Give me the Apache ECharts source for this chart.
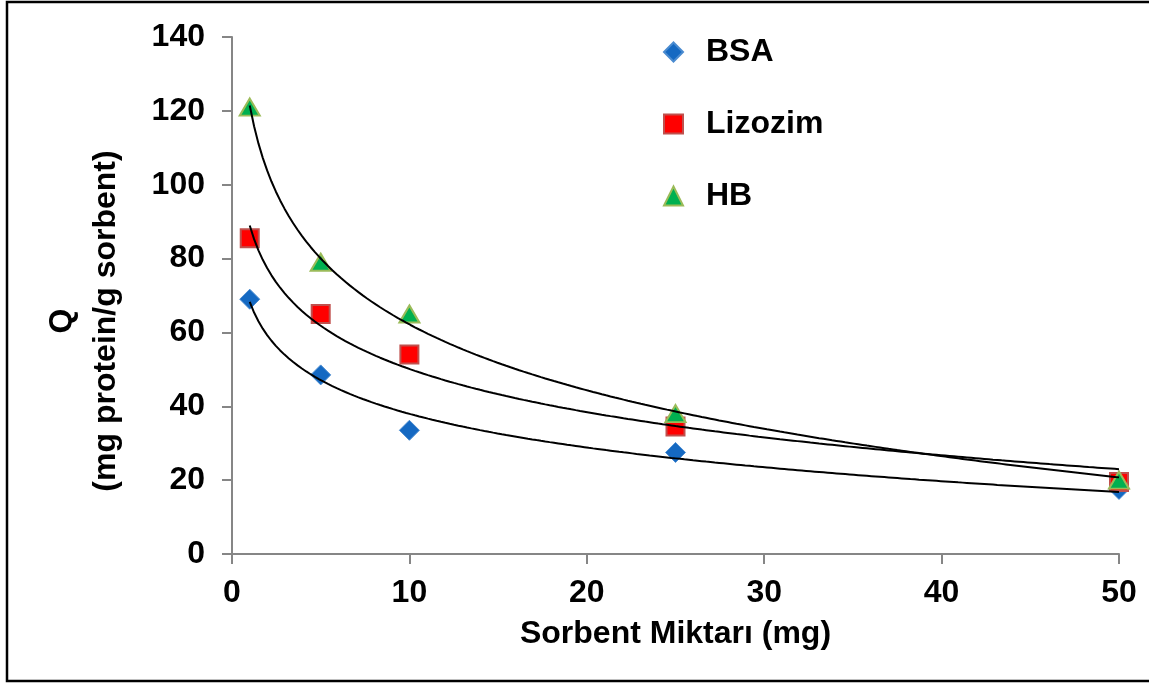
<!DOCTYPE html>
<html>
<head>
<meta charset="utf-8">
<script src="https://cdn.jsdelivr.net/npm/echarts@6/dist/echarts.min.js"></script>
<style>
html,body{margin:0;padding:0;background:#fff;}
#chart{width:1149px;height:683px;}
</style>
</head>
<body>
<div id="chart"></div>
<script>
// ---- data ----
var sorbentMg = [1, 5, 10, 25, 50];
var bsaQ      = [69, 48.5, 33.5, 27.5, 17.5];
var lizozimQ  = [85.5, 65, 54, 34.5, 19.5];
var hbQ       = [121, 79, 65, 38, 20];
var seriesNames = ['BSA', 'Lizozim', 'HB'];
var xTicks = [0, 10, 20, 30, 40, 50];
var yTicks = [0, 20, 40, 60, 80, 100, 120, 140];

function pairs(xs, ys) { return xs.map(function (x, i) { return [x, ys[i]]; }); }

// logarithmic least-squares trendline (y = a*ln(x) + b), as in the source spreadsheet
function logTrend(xs, ys) {
  var n = xs.length, lx = xs.map(Math.log);
  var mx = lx.reduce(function (s, v) { return s + v; }, 0) / n;
  var my = ys.reduce(function (s, v) { return s + v; }, 0) / n;
  var sxy = 0, sxx = 0;
  for (var i = 0; i < n; i++) { sxy += (lx[i] - mx) * (ys[i] - my); sxx += (lx[i] - mx) * (lx[i] - mx); }
  var a = sxy / sxx, b = my - a * mx;
  var out = [], x0 = xs[0], x1 = xs[n - 1];
  for (var k = 0; k <= 200; k++) {
    var x = x0 + (x1 - x0) * k / 200;
    out.push([x, a * Math.log(x) + b]);
  }
  return out;
}

var chart = echarts.init(document.getElementById('chart'), null, {renderer: 'canvas'});
var FONT = '"Liberation Sans", Arial, sans-serif';

function trendSeries(ys) {
  return {
    type: 'line', data: logTrend(sorbentMg, ys), showSymbol: false, symbol: 'none',
    lineStyle: {color: '#000', width: 2}, z: 5, silent: true, smooth: false
  };
}

chart.setOption({
  animation: false,
  backgroundColor: '#fff',
  grid: {left: 232, right: 30, top: 37, bottom: 129, containLabel: false},
  xAxis: {
    type: 'value', min: 0, max: 50, interval: 10,
    name: 'Sorbent Miktarı (mg)', nameLocation: 'middle', nameGap: 64,
    nameTextStyle: {fontFamily: FONT, fontSize: 32, fontWeight: 'bold', color: '#000'},
    axisLine: {show: true, onZero: false, lineStyle: {color: '#868686', width: 2}},
    axisTick: {show: true, length: 10, lineStyle: {color: '#868686', width: 2}},
    axisLabel: {fontFamily: FONT, fontSize: 32, fontWeight: 'bold', color: '#000', margin: 23,
      formatter: function (v) { return xTicks.indexOf(v) >= 0 ? String(v) : ''; }},
    splitLine: {show: false}
  },
  yAxis: {
    type: 'value', min: 0, max: 140, interval: 20,
    axisLine: {show: true, onZero: false, lineStyle: {color: '#868686', width: 2}},
    axisTick: {show: true, length: 10, lineStyle: {color: '#868686', width: 2}},
    axisLabel: {fontFamily: FONT, fontSize: 32, fontWeight: 'bold', color: '#000', margin: 27,
      formatter: function (v) { return yTicks.indexOf(v) >= 0 ? String(v) : ''; }},
    splitLine: {show: false}
  },
  legend: {
    data: seriesNames, orient: 'vertical', left: 663, top: 36, padding: 0,
    itemWidth: 19, itemHeight: 19, itemGap: 40,
    textStyle: {fontFamily: FONT, fontSize: 32, fontWeight: 'bold', color: '#000', lineHeight: 32, padding: [0, 0, 0, 18]}
  },
  graphic: [
    {type: 'rect', shape: {x: 7, y: 2, width: 1160, height: 679}, style: {fill: 'none', stroke: '#000', lineWidth: 2.5}, silent: true, z: 100},
    {type: 'text', x: 84, y: 321, rotation: Math.PI / 2,
      style: {text: 'Q\n(mg protein/g sorbent)', fontFamily: FONT, fontSize: 32, fontWeight: 'bold', fill: '#000',
        align: 'center', verticalAlign: 'middle', lineHeight: 44}}
  ],
  series: [
    {name: 'BSA', type: 'scatter', data: pairs(sorbentMg, bsaQ), symbol: 'diamond', symbolSize: 20,
      itemStyle: {color: '#1569c2', borderColor: '#4a8bd0', borderWidth: 1, opacity: 1}, z: 3},
    {name: 'Lizozim', type: 'scatter', data: pairs(sorbentMg, lizozimQ), symbol: 'rect', symbolSize: 18,
      itemStyle: {color: '#ff0000', borderColor: '#c0504d', borderWidth: 2, opacity: 1}, z: 3},
    {name: 'HB', type: 'scatter', data: pairs(sorbentMg, hbQ), symbol: 'triangle', symbolSize: [20, 17],
      itemStyle: {color: '#00b050', borderColor: '#9bbb59', borderWidth: 2, opacity: 1}, z: 3},
    trendSeries(bsaQ),
    trendSeries(lizozimQ),
    trendSeries(hbQ)
  ]
});
</script>
</body>
</html>
